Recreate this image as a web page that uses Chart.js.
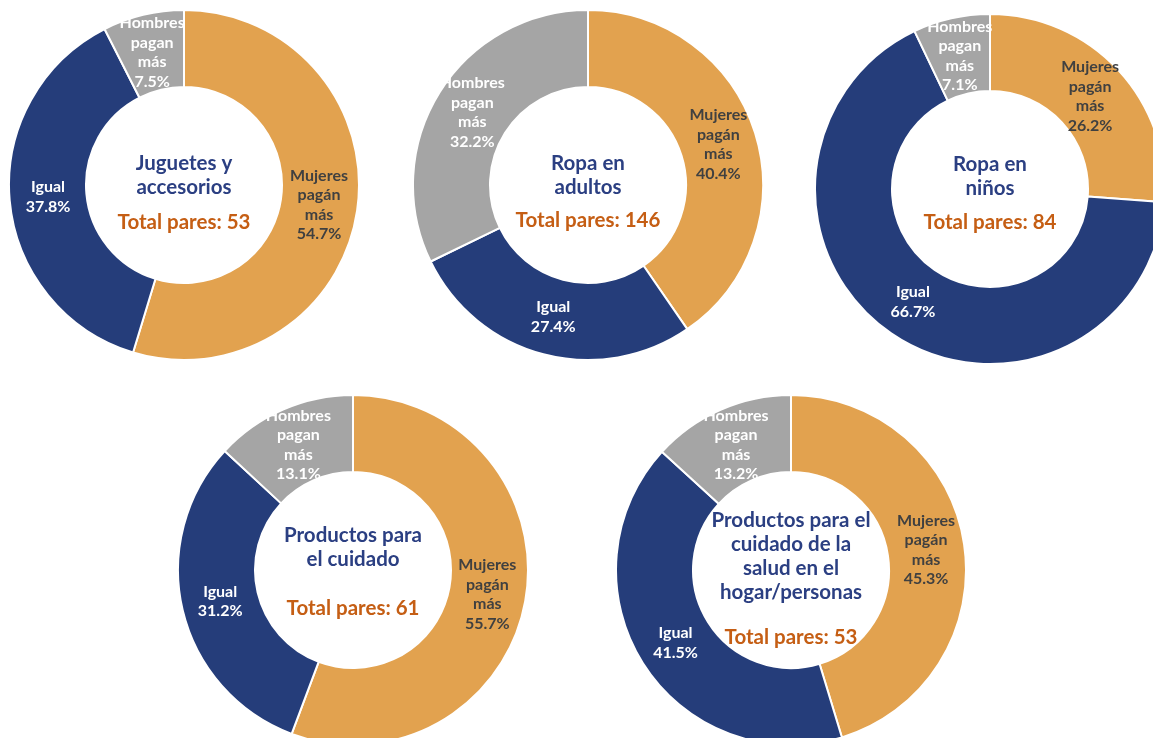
<!DOCTYPE html>
<html>
<head>
<meta charset="utf-8">
<script src="https://cdn.jsdelivr.net/npm/chart.js@4"></script>
<style>
  body { margin: 0; background: #fff; overflow: hidden; width: 1153px; height: 738px; position: relative; }
  canvas { position: absolute; }
</style>
</head>
<body>
<canvas id="c0"></canvas>
<canvas id="c1"></canvas>
<canvas id="c2"></canvas>
<canvas id="c3"></canvas>
<canvas id="c4"></canvas>
<script>
// data
const categories = ["Mujeres pagán más", "Igual", "Hombres pagan más"];
const sliceLabels = [["Mujeres", "pagán", "más"], ["Igual"], ["Hombres", "pagan", "más"]];
const titles = [
  ["Juguetes y", "accesorios"],
  ["Ropa en", "adultos"],
  ["Ropa en", "niños"],
  ["Productos para", "el cuidado"],
  ["Productos para el", "cuidado de la", "salud en el", "hogar/personas"],
];
const totals = [53, 146, 84, 61, 53];
const mujeres = [54.7, 40.4, 26.2, 55.7, 45.3];
const igual = [37.8, 27.4, 66.7, 31.2, 41.5];
const hombres = [7.5, 32.2, 7.1, 13.1, 13.2];

// layout: donut centres, title block offset, total line offset
const centers = [[184, 185], [588, 185], [990, 189], [353, 570], [791, 570]];
const titleTop = [-22, -22, -25, -35, -50];
const totalY = [37, 35, 33, 38, 67];

const colors = ["#E2A24F", "#253D7A", "#A5A5A5"];
const labelColors = ["#404040", "#ffffff", "#ffffff"];
const SIZE = 352;

const donutText = {
  id: "donutText",
  afterDatasetsDraw(chart) {
    const ctx = chart.ctx;
    const i = chart.options.plugins.donutText.index;
    const meta = chart.getDatasetMeta(0);
    ctx.save();
    ctx.textAlign = "center";
    ctx.textBaseline = "middle";
    // slice labels
    ctx.font = "bold 16px Lato";
    meta.data.forEach((arc, k) => {
      const p = arc.getCenterPoint();
      const val = chart.data.datasets[0].data[k];
      const lines = sliceLabels[k].concat([val.toFixed(1) + "%"]);
      const lh = 19.5;
      const y0 = p.y - ((lines.length - 1) * lh) / 2;
      ctx.fillStyle = labelColors[k];
      lines.forEach((t, j) => ctx.fillText(t, p.x, y0 + j * lh));
    });
    // centre title and total
    const cx = SIZE / 2, cy = SIZE / 2;
    ctx.font = "bold 20.5px Lato";
    ctx.fillStyle = "#2B3F82";
    titles[i].forEach((t, j) => ctx.fillText(t, cx, cy + titleTop[i] + j * 24));
    ctx.font = "bold 20.5px Lato";
    ctx.fillStyle = "#C55E14";
    ctx.fillText("Total pares: " + totals[i], cx, cy + totalY[i]);
    ctx.restore();
  },
};

for (let i = 0; i < 5; i++) {
  const cv = document.getElementById("c" + i);
  cv.width = SIZE;
  cv.height = SIZE;
  cv.style.left = centers[i][0] - SIZE / 2 + "px";
  cv.style.top = centers[i][1] - SIZE / 2 + "px";
  new Chart(cv, {
    type: "doughnut",
    data: {
      labels: categories,
      datasets: [
        {
          data: [mujeres[i], igual[i], hombres[i]],
          backgroundColor: colors,
          borderColor: "#ffffff",
          borderWidth: 2,
        },
      ],
    },
    options: {
      responsive: false,
      animation: false,
      cutout: "56%",
      layout: { padding: 0 },
      plugins: {
        legend: { display: false },
        tooltip: { enabled: false },
        donutText: { index: i },
      },
    },
    plugins: [donutText],
  });
}
</script>
</body>
</html>
